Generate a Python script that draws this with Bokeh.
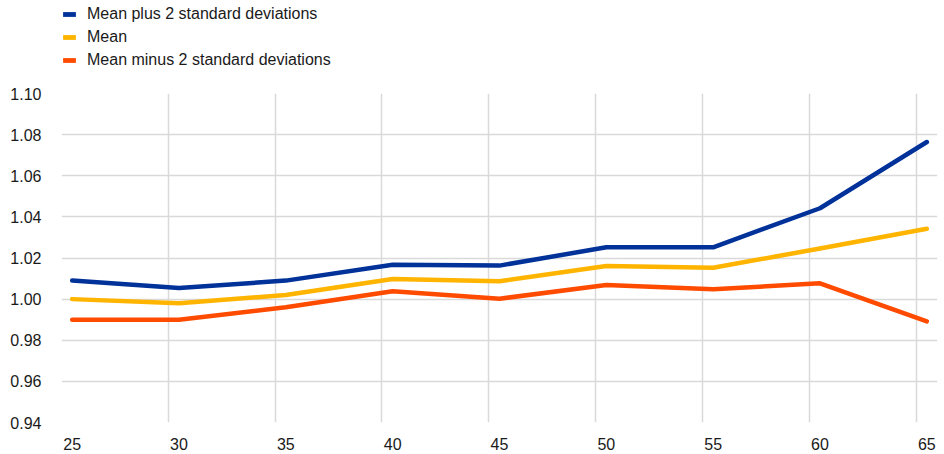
from bokeh.plotting import figure
from bokeh.layouts import column
from bokeh.models import FixedTicker, Legend, LegendItem, Range1d, NumeralTickFormatter
from bokeh.embed import file_html
from bokeh.resources import INLINE

ages = [25, 30, 35, 40, 45, 50, 55, 60, 65]
plus2sd = [1.009, 1.0054, 1.009, 1.0167, 1.0163, 1.0252, 1.0252, 1.0442, 1.0764]
mean = [1.000, 0.998, 1.002, 1.0098, 1.0087, 1.0161, 1.0153, 1.0246, 1.0342]
minus2sd = [0.990, 0.990, 0.996, 1.0038, 1.0002, 1.0069, 1.0048, 1.0077, 0.9892]
y_ticks = [0.94, 0.96, 0.98, 1.00, 1.02, 1.04, 1.06, 1.08, 1.10]

series = [
    ("Mean plus 2 standard deviations", plus2sd, "#003299"),
    ("Mean", mean, "#FFB400"),
    ("Mean minus 2 standard deviations", minus2sd, "#FF4B00"),
]

FONT = "Liberation Sans"
W = 938

# ---- legend strip on top ----
lg = figure(width=W, height=80, output_backend="svg", toolbar_location=None,
            x_range=Range1d(0, 1), y_range=Range1d(0, 1),
            x_axis_location=None, y_axis_location=None,
            min_border_left=61, min_border_right=0, min_border_top=5, min_border_bottom=0)
lg.outline_line_color = None
lg.xgrid.visible = False
lg.ygrid.visible = False
items = []
for name, vals, color in series:
    dummy = lg.quad(left=[float("nan")], right=[float("nan")], top=[float("nan")],
                    bottom=[float("nan")], fill_color=color, line_color=None)
    items.append(LegendItem(label=name, renderers=[dummy]))
legend = Legend(items=items, location="top_left", orientation="vertical",
                glyph_width=16, glyph_height=6, label_height=15, spacing=5,
                padding=0, margin=0, label_standoff=10,
                label_text_font=FONT, label_text_font_size="16px",
                label_text_color="#1a1a1a", border_line_color=None,
                background_fill_alpha=0)
lg.add_layout(legend)

# ---- main chart ----
p = figure(width=W, height=372, output_backend="svg", toolbar_location=None,
           x_range=Range1d(24.5, 65.5), y_range=Range1d(0.94, 1.10),
           min_border_left=61, min_border_right=1, min_border_top=13,
           min_border_bottom=28)
p.outline_line_color = None

for name, vals, color in series:
    p.line(ages, vals, line_color=color, line_width=4.5, line_join="round", line_cap="round")

p.xaxis.ticker = FixedTicker(ticks=ages)
p.yaxis.ticker = FixedTicker(ticks=y_ticks)
p.yaxis.formatter = NumeralTickFormatter(format="0.00")
for ax in (p.xaxis[0], p.yaxis[0]):
    ax.axis_line_color = None
    ax.major_tick_line_color = None
    ax.minor_tick_line_color = None
    ax.major_label_text_font = FONT
    ax.major_label_text_font_size = "16px"
    ax.major_label_text_color = "#1a1a1a"
p.yaxis.major_label_standoff = 14
p.xaxis.major_label_standoff = 9

# vertical grid lines sit half a step left of each category
p.xgrid.ticker = FixedTicker(ticks=[a - 0.5 for a in ages])
p.ygrid.ticker = FixedTicker(ticks=y_ticks)
for g in (p.xgrid[0], p.ygrid[0]):
    g.grid_line_color = "#d9d9d9"
    g.grid_line_width = 1.5

open("out.html", "w").write(file_html(column(lg, p, spacing=0), INLINE))
